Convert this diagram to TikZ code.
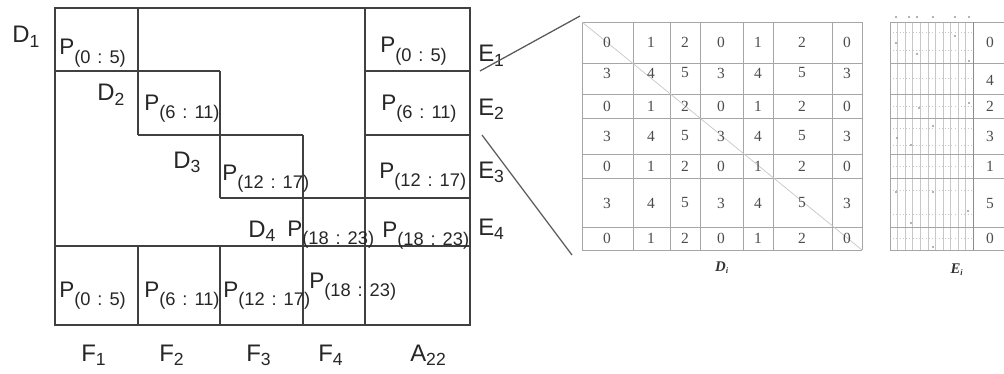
\documentclass[tikz,border=0pt]{standalone}
\usepackage{fontspec}
\setmainfont{Liberation Sans}
\newfontfamily\numfont{Liberation Serif}

% block label with index range, e.g. P_(0 : 5)
\newcommand{\prange}[2]{P\raisebox{-6pt}{\fontsize{13}{13}\selectfont(#1\hspace{0.38em}:\hspace{0.38em}#2)}}
% big label with subscript, e.g. D_1
\newcommand{\sublbl}[2]{#1\raisebox{-3.5pt}{\fontsize{12.5}{13}\selectfont#2}}

\begin{document}
\begin{tikzpicture}[
    x=0.025cm, y=-0.025cm,
    % ── Block matrix ──
    blockline/.style={line width=1.3pt, draw=black!75},
    plabel/.style={anchor=base west, inner sep=0pt,
        font=\fontsize{16}{16}\selectfont, text=black!85},
    biglbl/.style={anchor=base west, inner sep=0pt,
        font=\fontsize{17}{18}\selectfont, text=black!85},
    % ── Zoomed panels ──
    gridline/.style={line width=0.5pt, draw=black!35},
    fineline/.style={line width=0.3pt, draw=black!22},
    cellnum/.style={inner sep=0pt, font=\numfont\fontsize{11}{11}\selectfont, text=black!70},
    caplbl/.style={inner sep=0pt, font=\numfont\bfseries\itshape\fontsize{10.5}{10.5}\selectfont, text=black!80},
    zoomline/.style={line width=0.9pt, draw=black!65},
    speck/.style={circle, fill=black!40, inner sep=0pt, minimum size=1.6pt},
]

\useasboundingbox (0,0) rectangle (1004,374);

% ════════════════════════════════════════════════════════
%  BLOCK MATRIX: outline and block borders
% ════════════════════════════════════════════════════════

\draw [blockline] (55,8) rectangle (470,325);
\draw [blockline] (55,71) -- (220,71);
\draw [blockline] (138,135) -- (303,135);
\draw [blockline] (220,198) -- (470,198);
\draw [blockline] (55,246) -- (470,246);
\draw [blockline] (365,71) -- (470,71) (365,135) -- (470,135);
\draw [blockline] (138,8) -- (138,135) (138,246) -- (138,325);
\draw [blockline] (220,71) -- (220,198) (220,246) -- (220,325);
\draw [blockline] (303,135) -- (303,325);
\draw [blockline] (365,8) -- (365,325);

% ════════════════════════════════════════════════════════
%  BLOCK LABELS
% ════════════════════════════════════════════════════════

% diagonal blocks
\node (D1) [biglbl] at (12,43)  {\sublbl{D}{1}};
\node (P1) [plabel] at (59,55)  {\prange{0}{5}};
\node (D2) [biglbl] at (97,101) {\sublbl{D}{2}};
\node (P2) [plabel] at (144,110) {\prange{6}{11}};
\node (D3) [biglbl] at (173,168) {\sublbl{D}{3}};
\node (P3) [plabel] at (222,180) {\prange{12}{17}};
\node (D4) [biglbl] at (248,237) {\sublbl{D}{4}};
\node (P4) [plabel] at (287,236) {\prange{18}{23}};

% border column
\node (PE1) [plabel] at (380,53)  {\prange{0}{5}};
\node (PE2) [plabel] at (381,110) {\prange{6}{11}};
\node (PE3) [plabel] at (379,178) {\prange{12}{17}};
\node (PE4) [plabel] at (382,237) {\prange{18}{23}};

\node (E1) [biglbl] at (478,62)  {\sublbl{E}{1}};
\node (E2) [biglbl] at (478,115) {\sublbl{E}{2}};
\node (E3) [biglbl] at (478,178) {\sublbl{E}{3}};
\node (E4) [biglbl] at (478,235) {\sublbl{E}{4}};

% border row
\node (PF1) [plabel] at (59,297)  {\prange{0}{5}};
\node (PF2) [plabel] at (144,297) {\prange{6}{11}};
\node (PF3) [plabel] at (223,297) {\prange{12}{17}};
\node (PF4) [plabel] at (309,288) {\prange{18}{23}};

\node (F1)  [biglbl] at (81,361)  {\sublbl{F}{1}};
\node (F2)  [biglbl] at (159,361) {\sublbl{F}{2}};
\node (F3)  [biglbl] at (246,361) {\sublbl{F}{3}};
\node (F4)  [biglbl] at (318,361) {\sublbl{F}{4}};
\node (A22) [biglbl] at (410,361) {\sublbl{A}{22}};

% ════════════════════════════════════════════════════════
%  ZOOM: D_i
% ════════════════════════════════════════════════════════

\foreach \x in {582,633,670,700,743,773,832,862}
    \draw [gridline] (\x,22) -- (\x,250);
\foreach \y in {22,63,94,118,154,178,227,250}
    \draw [gridline] (582,\y) -- (862,\y);

\coordinate (Dtl) at (582,22);
\coordinate (Dbr) at (862,250);
\draw [line width=0.5pt, draw=black!22] (Dtl) -- (Dbr);

\foreach \y/\a/\b/\c in {42/0/1/2, 73/3/4/5, 106/0/1/2, 136/3/4/5,
                         166/0/1/2, 203/3/4/5, 238/0/1/2} {
    \node (d\y a) [cellnum] at (607,\y) {\a};
    \node (d\y b) [cellnum] at (651,\y) {\b};
    \node (d\y c) [cellnum] at (685,\y) {\c};
    \node (d\y d) [cellnum] at (721,\y) {\a};
    \node (d\y e) [cellnum] at (758,\y) {\b};
    \node (d\y f) [cellnum] at (802,\y) {\c};
    \node (d\y g) [cellnum] at (847,\y) {\a};
}

\node (Dcap) [caplbl] at (722,268) {D\textsubscript{\fontsize{6}{6}\selectfont i}};

% zoom lines from the border column
\coordinate (srcA) at (480,71);
\coordinate (dstA) at (580,16);
\coordinate (srcB) at (482,135);
\coordinate (dstB) at (572,255);
\draw [zoomline] (srcA) -- (dstA);
\draw [zoomline] (srcB) -- (dstB);

% ════════════════════════════════════════════════════════
%  ZOOM: E_i
% ════════════════════════════════════════════════════════

\foreach \i in {1,...,10}
    \draw [fineline] ({890+\i*7.55},22) -- ({890+\i*7.55},250);
\foreach \y in {32,50,78,106,128,145,166,190,214,238}
    \draw [fineline, dotted] (890,\y) -- (973,\y);
\foreach \y in {22,63,94,118,154,178,227,250}
    \draw [gridline] (890,\y) -- (1004,\y);
\draw [gridline] (890,22) -- (890,250);
\draw [gridline, draw=black!45] (973,22) -- (973,250);

\foreach \x/\y in {896/43, 917/54, 955/36, 969/61, 919/108, 969/103, 933/126,
                   897/138, 911/145, 896/192, 933/192, 968/211, 911/223, 933/247,
                   896/17, 909/17, 917/17, 933/17, 955/17, 969/17}
    \node [speck] at (\x,\y) {};

\foreach \y/\v in {42/0, 80/4, 106/2, 136/3, 166/1, 204/5, 238/0}
    \node (e\y) [cellnum] at (990,\y) {\v};

\node (Ecap) [caplbl] at (957,270) {E\textsubscript{\fontsize{6}{6}\selectfont i}};

\end{tikzpicture}
\end{document}
